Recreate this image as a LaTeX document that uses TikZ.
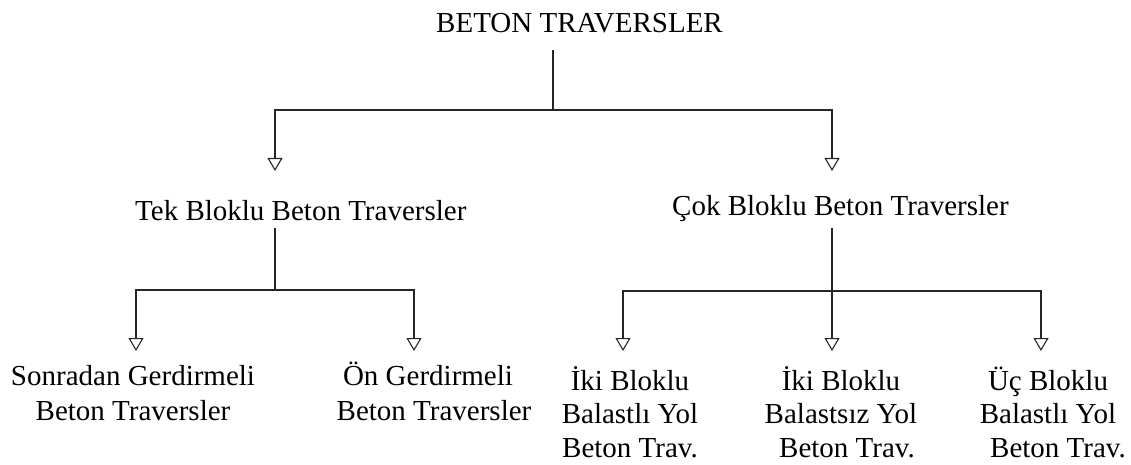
\documentclass[tikz,border=0pt]{standalone}
\usepackage{fontspec}
\setmainfont{Liberation Serif}
\usetikzlibrary{arrows.meta}
\begin{document}
\begin{tikzpicture}[x=1pt,y=-1pt,
  lbl/.style={font=\fontsize{29}{35}\selectfont, inner sep=0pt, anchor=base, align=center},
  lbl3/.style={lbl, font=\fontsize{29}{33.5}\selectfont},
  conn/.style={draw=black!85, line width=1.3pt},
  arr/.style={conn, -{Triangle[open, width=15pt, length=13pt, line width=1.1pt]}}]
\useasboundingbox (0,0) rectangle (1131,465);
% texts (base anchor = baseline of the last line)
\node[lbl] (root) at (579.5,33) {BETON TRAVERSLER};
\node[lbl, anchor=base west] (tek) at (135,220) {Tek Bloklu Beton Traversler};
\node[lbl, anchor=base west] (cok) at (672,215) {Çok Bloklu Beton Traversler};
\node[lbl] (s1) at (133,420) {Sonradan Gerdirmeli\\Beton Traversler};
\node[lbl] (s2) at (428,420) {Ön Gerdirmeli\\\hspace*{12pt}Beton Traversler};
\node[lbl3] (b1) at (630,457) {İki Bloklu\\Balastlı Yol\\Beton Trav.};
\node[lbl3] (b2) at (841,457) {İki Bloklu\\Balastsız Yol\\\hspace*{12pt}Beton Trav.};
\node[lbl3] (b3) at (1048,457) {Üç Bloklu\\Balastlı Yol\\\hspace*{20pt}Beton Trav.};
% junctions
\coordinate (r0) at (553,50);
\coordinate (r1) at (553,110);
\coordinate (ta) at (275,171);
\coordinate (tc) at (832,171);
\coordinate (k0) at (275,228);
\coordinate (k1) at (275,290);
\coordinate (sa) at (136,351);
\coordinate (sb) at (414,351);
\coordinate (c0) at (832,228);
\coordinate (c1) at (832,291);
\coordinate (ba) at (623,351);
\coordinate (bb) at (832,351);
\coordinate (bc) at (1041,351);
% connectors
\draw[conn] (r0) -- (r1);
\draw[arr] (r1) -| (ta);
\draw[arr] (r1) -| (tc);
\draw[conn] (k0) -- (k1);
\draw[arr] (k1) -| (sa);
\draw[arr] (k1) -| (sb);
\draw[arr] (c0) -- (bb);
\draw[arr] (c1) -| (ba);
\draw[arr] (c1) -| (bc);
\end{tikzpicture}
\end{document}
